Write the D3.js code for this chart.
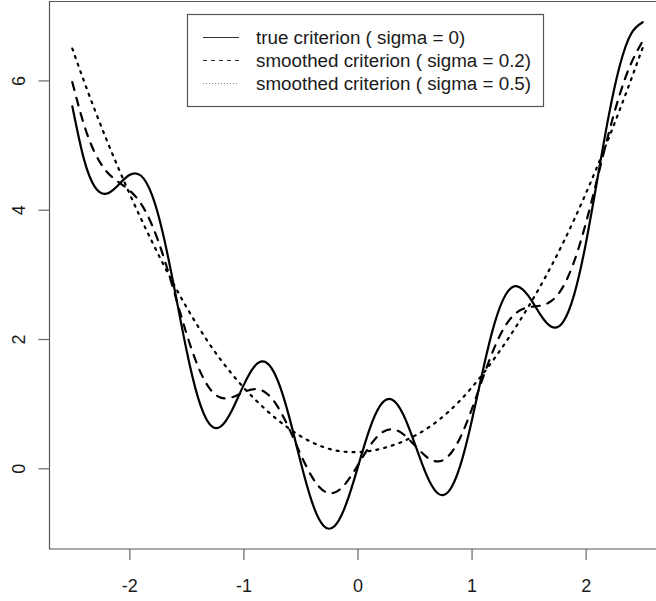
<!DOCTYPE html>
<html lang="en">
  <head>
    <meta charset="utf-8" />
    <title>Smoothed criterion</title>
    <style>
      body,
      html {
        margin: 0;
        padding: 0;
        background: #ffffff;
      }

      svg {
        display: block;
        background-color: #ffffff;
      }

      text {
        font-family: "Liberation Sans", Arial, sans-serif;
        font-size: 18px;
        fill: #1a1a1a;
      }

      .row text {
        font-size: 18.8px;
      }
    </style>
    <script src="https://d3js.org/d3.v7.min.js"></script>
  </head>
<body>
<svg width="656" height="601"></svg>
<script>

    // x grid (step 0.1) and the three curves
    var xs = [-2.5, -2.4, -2.3, -2.2, -2.1, -2.0, -1.9, -1.8, -1.7, -1.6, -1.5,
              -1.4, -1.3, -1.2, -1.1, -1.0, -0.9, -0.8, -0.7, -0.6, -0.5,
              -0.4, -0.3, -0.2, -0.1, 0.0, 0.1, 0.2, 0.3, 0.4, 0.5,
              0.6, 0.7, 0.8, 0.9, 1.0, 1.1, 1.2, 1.3, 1.4, 1.5,
              1.6, 1.7, 1.8, 1.9, 2.0, 2.1, 2.2, 2.3, 2.4, 2.5];

    var trueCrit = [5.600, 4.794, 4.346, 4.248, 4.376, 4.537, 4.529, 4.221, 3.590, 2.734, 1.838,
                    1.105, 0.692, 0.646, 0.899, 1.279, 1.583, 1.636, 1.362, 0.803, 0.109,
                    -0.516, -0.884, -0.892, -0.555, 0.000, 0.575, 0.972, 1.064, 0.836, 0.391,
                    -0.083, -0.382, -0.356, 0.037, 0.721, 1.522, 2.234, 2.689, 2.815, 2.662,
                    2.386, 2.190, 2.259, 2.691, 3.463, 4.444, 5.432, 6.234, 6.726, 6.900];

    var smooth02 = [5.973, 5.330, 4.871, 4.592, 4.434, 4.301, 4.098, 3.758, 3.271, 2.685, 2.089,
                    1.584, 1.244, 1.094, 1.098, 1.176, 1.226, 1.165, 0.954, 0.615, 0.221,
                    -0.129, -0.344, -0.374, -0.225, 0.040, 0.325, 0.534, 0.604, 0.529, 0.359,
                    0.185, 0.106, 0.195, 0.474, 0.904, 1.402, 1.866, 2.216, 2.416, 2.491,
                    2.515, 2.589, 2.802, 3.203, 3.779, 4.466, 5.168, 5.789, 6.270, 6.607];

    var smooth05 = [6.493, 5.999, 5.530, 5.083, 4.660, 4.256, 3.870, 3.501, 3.148, 2.812, 2.495,
                    2.201, 1.929, 1.681, 1.457, 1.253, 1.069, 0.901, 0.750, 0.615, 0.498,
                    0.403, 0.329, 0.280, 0.254, 0.250, 0.266, 0.300, 0.351, 0.417, 0.502,
                    0.605, 0.730, 0.879, 1.051, 1.247, 1.463, 1.699, 1.951, 2.219, 2.505,
                    2.808, 3.132, 3.479, 3.850, 4.244, 4.660, 5.097, 5.550, 6.021, 6.507];

    var xTicks = [-2, -1, 0, 1, 2];
    var yTicks = [0, 2, 4, 6];

    var legendLabels = ["true criterion ( sigma = 0)",
                        "smoothed criterion ( sigma = 0.2)",
                        "smoothed criterion ( sigma = 0.5)"];

    var svg = d3.select("svg");

    // R style 4% padding on both axes
    var xScale = d3.scaleLinear().domain([-2.7, 2.7]).range([49.5, 665.5]),
        yScale = d3.scaleLinear().domain([-1.248, 7.213]).range([549, 2]);

    // plot frame (right side falls outside the picture)
    svg.append("path")
       .attr("d", "M665.5," + 1.5 + "H49.5V549H665.5")
       .attr("fill", "none")
       .attr("stroke", "#555")
       .attr("stroke-width", 1.2);

    // x axis
    var gx = svg.append("g")
                .attr("transform", "translate(0,549)")
                .call(d3.axisBottom(xScale).tickValues(xTicks).tickSize(11).tickPadding(14)
                      .tickFormat(function(d) { return d; }));
    gx.select(".domain").remove();
    gx.selectAll("line").attr("stroke", "#666").attr("stroke-width", 1.2);
    gx.selectAll("text").attr("font-size", null).attr("font-family", null).attr("fill", "#1a1a1a")
      .attr("y", 37).attr("dy", "0.35em");

    // y axis, labels turned like R's default las = 0
    var gy = svg.append("g")
                .attr("transform", "translate(49.5,0)")
                .call(d3.axisLeft(yScale).tickValues(yTicks).tickSize(11)
                      .tickFormat(function(d) { return d; }));
    gy.select(".domain").remove();
    gy.selectAll("line").attr("stroke", "#666").attr("stroke-width", 1.2);
    gy.selectAll("text").remove();
    gy.selectAll(".tick").append("text")
      .attr("transform", "translate(-31,0) rotate(-90)")
      .attr("text-anchor", "middle")
      .attr("dy", "0.35em")
      .text(function(d) { return d; });

    // the three curves
    var series = [
        { values: trueCrit, dash: null },
        { values: smooth02, dash: "8,8" },
        { values: smooth05, dash: "2,6" }
    ];

    var line = d3.line()
                 .x(function(d, i) { return xScale(xs[i]); })
                 .y(function(d) { return yScale(d); })
                 .curve(d3.curveNatural);

    svg.selectAll(".curve")
       .data(series)
       .enter().append("path")
       .attr("class", "curve")
       .attr("d", function(d) { return line(d.values); })
       .attr("fill", "none")
       .attr("stroke", "#000")
       .attr("stroke-width", 2.2)
       .attr("stroke-linecap", "round")
       .attr("stroke-dasharray", function(d) { return d.dash; });

    // legend
    var legend = svg.append("g");
    legend.append("rect")
          .attr("x", 187.5).attr("y", 14.5)
          .attr("width", 356).attr("height", 92)
          .attr("fill", "#fff")
          .attr("stroke", "#555")
          .attr("stroke-width", 1.2);

    var legendDash = [null, "4,4", "1,2"];
    var rows = legend.selectAll(".row")
                     .data(legendLabels)
                     .enter().append("g")
                     .attr("class", "row")
                     .attr("transform", function(d, i) { return "translate(0," + (37.5 + i * 23) + ")"; });

    rows.append("line")
        .attr("x1", 203).attr("x2", 239)
        .attr("stroke", function(d, i) { return i == 2 ? "#888" : "#333"; })
        .attr("stroke-width", 1.2)
        .attr("stroke-dasharray", function(d, i) { return legendDash[i]; });

    rows.append("text")
        .attr("x", 256)
        .attr("dy", "0.35em")
        .text(function(d) { return d; });
</script>
</body>
</html>
